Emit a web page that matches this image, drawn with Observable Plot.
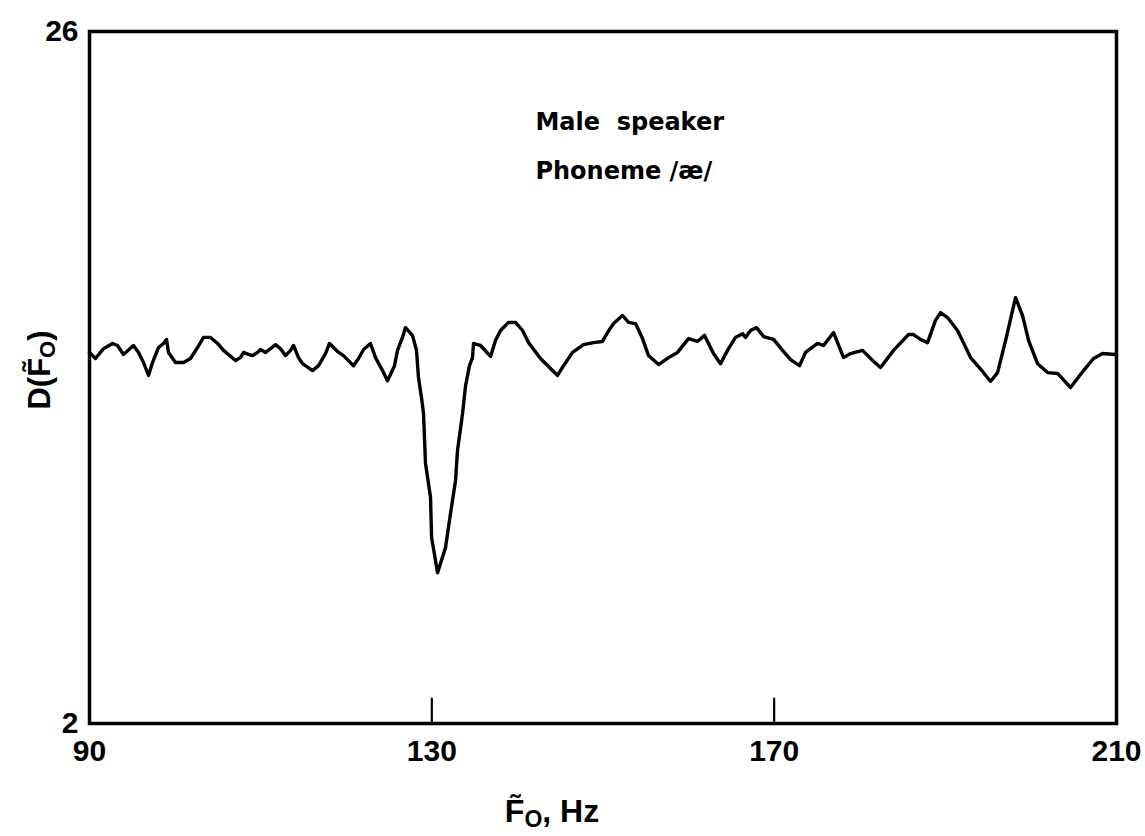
<!DOCTYPE html>
<html><head><meta charset="utf-8">
<script src="https://cdn.jsdelivr.net/npm/d3@7"></script>
<script src="https://cdn.jsdelivr.net/npm/@observablehq/plot@0.6"></script>
<style>body{margin:0;background:#fff}</style>
</head><body><div id="chart"></div>
<script>
const f0 = [90.0, 90.70, 91.64, 92.69, 93.27, 93.97, 95.14, 95.73, 96.31, 96.89,
 97.36, 98.06, 98.65, 99.00, 99.23, 100.05, 100.98, 101.80, 102.62, 103.32,
 104.14, 104.96, 105.66, 107.06, 107.64, 108.00, 108.58, 109.05, 109.63, 109.98,
 110.57, 111.15, 111.73, 112.32, 112.90, 113.49, 113.84, 114.42, 114.89, 116.06,
 116.76, 117.58, 118.04, 118.98, 119.68, 120.85, 121.43, 122.02, 122.83, 123.42,
 124.24, 124.82, 125.64, 125.99, 126.57, 126.92, 127.74, 128.21, 128.44, 128.79,
 129.03, 129.26, 129.85, 129.97, 130.67, 131.60, 132.18, 132.77, 133.00, 133.59,
 133.94, 134.40, 134.75, 134.87, 135.69, 136.86, 137.44, 138.03, 138.96, 139.78,
 140.60, 141.30, 142.70, 143.87, 144.69, 145.39, 146.44, 147.72, 148.89, 149.94,
 150.53, 151.23, 152.28, 152.98, 153.80, 154.62, 155.32, 156.49, 157.66, 158.71,
 159.99, 161.04, 161.86, 162.91, 163.73, 164.55, 165.48, 166.30, 166.65, 167.24,
 167.94, 168.76, 169.93, 170.98, 171.91, 172.96, 173.66, 175.07, 175.77, 176.94,
 178.11, 178.93, 180.33, 181.50, 182.43, 183.95, 185.70, 186.28, 187.10, 187.92,
 188.85, 189.44, 190.26, 191.42, 192.95, 194.35, 195.28, 196.10, 197.04, 198.20,
 199.02, 199.73, 200.78, 201.95, 203.12, 204.63, 206.15, 207.32, 208.37, 209.89];
const dF0 = [14.87, 14.66, 15.00, 15.18, 15.11, 14.80, 15.11, 14.87, 14.52, 14.07,
 14.52, 15.04, 15.18, 15.32, 14.87, 14.52, 14.52, 14.66, 15.04, 15.39,
 15.39, 15.18, 14.94, 14.59, 14.69, 14.87, 14.80, 14.76, 14.87, 14.97,
 14.87, 15.00, 15.14, 15.00, 14.76, 14.94, 15.11, 14.69, 14.48, 14.24,
 14.41, 14.83, 15.18, 14.90, 14.76, 14.41, 14.66, 14.97, 15.18, 14.69,
 14.24, 13.89, 14.41, 14.94, 15.39, 15.73, 15.46, 14.94, 14.00, 13.31,
 12.75, 11.02, 9.84, 8.45, 7.23, 8.10, 9.28, 10.43, 11.47, 12.75,
 13.72, 14.41, 14.69, 15.18, 15.11, 14.73, 15.28, 15.63, 15.91, 15.91,
 15.63, 15.21, 14.66, 14.31, 14.07, 14.41, 14.87, 15.14, 15.21, 15.25,
 15.56, 15.87, 16.15, 15.91, 15.87, 15.35, 14.76, 14.45, 14.69, 14.87,
 15.35, 15.25, 15.46, 14.83, 14.48, 14.94, 15.39, 15.52, 15.39, 15.63,
 15.73, 15.42, 15.32, 14.94, 14.62, 14.41, 14.87, 15.18, 15.11, 15.56,
 14.69, 14.83, 14.94, 14.59, 14.35, 14.94, 15.49, 15.49, 15.32, 15.21,
 15.98, 16.25, 16.08, 15.63, 14.69, 14.21, 13.86, 14.17, 15.28, 16.77,
 16.15, 15.28, 14.48, 14.17, 14.14, 13.65, 14.24, 14.66, 14.83, 14.80];
const xTicks = [90, 130, 170, 210];
const yTicks = [2, 26];
const innerTicks = [130, 170];
const notes = [
  {x: 142.1, y: 22.84, text: "Male  speaker"},
  {x: 142.1, y: 21.14, text: "Phoneme /æ/"}
];

const data = f0.map((x, i) => ({x, y: dF0[i]}));
const tickShape = {draw(context, l) { context.moveTo(0, 0); context.lineTo(0, -l); }};

const plot = Plot.plot({
  width: 1145, height: 836,
  marginLeft: 89, marginRight: 29, marginTop: 31, marginBottom: 113,
  x: {domain: [90, 210]},
  y: {domain: [2, 26]},
  style: {fontFamily: "Liberation Sans", fontSize: "30px", fontWeight: "bold", background: "#fff", color: "#000"},
  marks: [
    Plot.line(data, {x: "x", y: "y", stroke: "#000", strokeWidth: 3.4, strokeLinejoin: "round"}),
    Plot.vector(innerTicks, {x: d => d, y: 2, length: 25, anchor: "start", shape: tickShape, stroke: "#000", strokeWidth: 2.2}),
    Plot.axisX({ticks: xTicks, tickSize: 0, tickPadding: 16, label: null, tickFormat: d => String(d)}),
    Plot.axisY({ticks: yTicks, tickSize: 0, tickPadding: 11, label: null, tickFormat: d => String(d)}),
    Plot.text(notes, {x: "x", y: "y", text: "text", textAnchor: "start", fontFamily: "DejaVu Sans", fontSize: 24, fontWeight: "bold"}),
    Plot.frame({stroke: "#000", strokeWidth: 3.5})
  ]
});
document.getElementById("chart").appendChild(plot);

const svg = d3.select(plot);
// x-axis title
const xt = svg.append("text")
  .attr("x", 552).attr("y", 822)
  .attr("text-anchor", "middle")
  .attr("font-family", "Liberation Sans").attr("font-weight", "bold").attr("font-size", 32);
xt.append("tspan").text("F\u0303");
xt.append("tspan").attr("font-size", 23).attr("dy", 5).text("O");
xt.append("tspan").attr("dy", -5).text(", Hz");
// y-axis title
const yt = svg.append("text")
  .attr("transform", "translate(50,370) rotate(-90)")
  .attr("text-anchor", "middle")
  .attr("font-family", "Liberation Sans").attr("font-weight", "bold").attr("font-size", 31);
yt.append("tspan").text("D(F\u0303");
yt.append("tspan").attr("font-size", 22).attr("dy", 5).text("O");
yt.append("tspan").attr("dy", -5).text(")");
</script>
</body></html>
